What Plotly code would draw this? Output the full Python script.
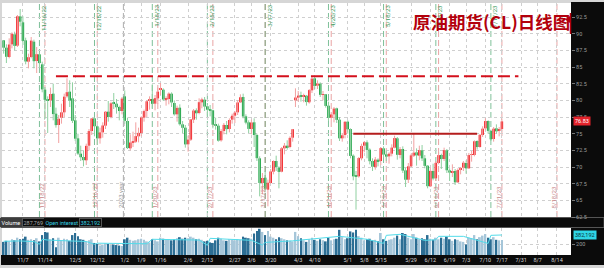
import plotly.graph_objects as go
import pandas as pd

# ---------------- data ----------------
holidays = ["2022-11-24", "2022-12-26", "2023-01-02", "2023-01-16", "2023-02-20",
            "2023-04-07", "2023-05-29", "2023-06-19", "2023-07-04"]
first_day = "2022-10-28"
last_axis_day = "2023-08-31"

open_ = [89.0, 87.9, 86.5, 88.4, 89.9, 88.2, 92.6, 91.7, 89.0, 85.8, 86.5, 88.8, 85.9, 86.9, 85.4, 81.6,
         80.1, 80.0, 81.0, 78.0, 76.3, 77.4, 78.2, 80.6, 81.3, 80.3, 77.0, 74.3, 72.0, 71.5, 71.0, 73.2,
         75.4, 77.3, 76.1, 74.3, 75.2, 76.2, 78.3, 77.5, 79.6, 79.5, 79.0, 78.4, 80.6, 76.9, 72.8, 73.7,
         73.8, 74.6, 75.1, 77.4, 78.4, 79.9, 80.2, 79.5, 80.3, 81.6, 81.6, 80.1, 80.2, 81.0, 79.6, 77.9,
         78.9, 76.4, 75.9, 73.4, 74.1, 77.1, 78.5, 78.1, 79.7, 80.1, 79.1, 78.6, 78.5, 76.4, 76.2, 74.0,
         75.4, 76.3, 75.7, 77.1, 77.7, 78.2, 79.7, 80.5, 77.6, 76.7, 75.7, 76.7, 74.8, 71.3, 67.6, 68.4,
         66.6, 67.6, 69.3, 70.9, 69.9, 69.3, 72.8, 73.2, 73.0, 74.4, 80.0, 80.4, 80.7, 80.6, 80.7, 79.7,
         81.5, 83.3, 82.2, 82.5, 80.8, 80.9, 79.2, 77.4, 77.9, 78.8, 77.1, 74.3, 74.8, 76.8, 75.7, 71.7,
         68.6, 68.6, 71.3, 73.2, 73.7, 72.6, 70.9, 70.0, 71.1, 70.9, 72.8, 71.9, 71.6, 72.0, 72.9, 74.3,
         71.8, 72.7, 69.5, 68.1, 70.1, 71.7, 72.2, 71.7, 72.5, 71.3, 70.2, 67.1, 69.4, 68.3, 70.6, 71.8,
         71.2, 72.5, 69.5, 69.2, 69.4, 67.7, 69.6, 69.9, 70.6, 69.8, 71.8, 71.8, 73.9, 73.0, 74.8, 75.8,
         76.9, 75.4, 74.2, 75.8, 75.4, 75.7]
high = [89.0, 88.4, 89.3, 90.2, 90.3, 92.8, 93.7, 92.6, 89.4, 87.0, 89.5, 89.1, 88.0, 87.2, 85.8, 82.0,
        80.6, 81.9, 82.5, 78.9, 77.8, 79.5, 81.0, 83.3, 83.0, 82.7, 77.8, 75.0, 73.2, 72.5, 73.5, 75.7,
        77.3, 77.5, 76.2, 75.9, 76.7, 78.4, 79.9, 79.8, 81.1, 80.2, 79.2, 80.5, 81.5, 77.4, 74.9, 75.3,
        76.7, 75.9, 77.6, 78.6, 80.0, 80.6, 82.4, 80.8, 81.9, 82.6, 81.8, 80.6, 81.2, 81.2, 80.0, 79.2,
        79.4, 76.9, 76.3, 74.7, 77.2, 78.7, 78.8, 80.3, 80.4, 80.5, 79.2, 79.3, 78.6, 77.4, 76.5, 75.7,
        76.6, 76.9, 77.3, 78.0, 78.4, 80.0, 80.9, 81.0, 77.9, 77.0, 77.1, 77.3, 75.0, 71.6, 69.1, 69.4,
        68.1, 69.7, 71.0, 71.7, 70.1, 73.0, 73.6, 74.0, 74.6, 75.7, 81.8, 81.4, 81.3, 81.0, 80.8, 81.7,
        83.5, 83.5, 83.0, 82.7, 81.4, 80.9, 79.8, 78.0, 79.0, 78.9, 77.5, 75.1, 76.9, 77.0, 75.8, 71.9,
        69.4, 71.5, 73.5, 73.9, 74.0, 72.8, 71.3, 71.5, 71.3, 73.0, 73.1, 72.5, 72.2, 73.4, 74.7, 74.5,
        73.0, 73.1, 69.9, 70.6, 72.0, 75.1, 72.8, 73.2, 73.3, 71.8, 70.3, 69.9, 70.5, 70.9, 72.2, 72.0,
        72.9, 72.7, 69.8, 70.4, 69.7, 69.8, 70.0, 70.9, 71.0, 72.1, 72.4, 74.0, 74.0, 74.9, 76.1, 77.3,
        77.0, 75.6, 76.0, 76.4, 76.0, 77.3]
low = [87.0, 85.6, 86.3, 87.8, 87.5, 88.0, 91.1, 88.3, 85.4, 84.8, 86.3, 84.8, 84.1, 84.9, 81.2, 77.2,
       75.1, 79.0, 77.0, 75.9, 73.6, 76.5, 77.5, 80.4, 79.0, 76.6, 73.9, 71.8, 70.9, 70.1, 70.3, 72.5,
       74.8, 74.6, 73.3, 73.5, 74.4, 75.7, 76.8, 77.3, 78.7, 78.0, 77.0, 77.9, 76.5, 72.7, 72.5, 73.0,
       73.6, 73.7, 74.6, 76.8, 77.5, 78.6, 78.8, 78.5, 79.5, 80.8, 79.9, 79.2, 79.4, 79.0, 77.7, 76.8,
       76.2, 75.1, 72.9, 72.3, 73.9, 76.6, 77.1, 77.9, 78.8, 78.4, 77.7, 77.6, 75.8, 75.6, 73.8, 73.8,
       74.9, 74.9, 75.2, 76.5, 76.6, 77.8, 79.6, 77.3, 76.4, 75.1, 74.9, 73.0, 70.9, 65.6, 65.9, 66.2,
       64.1, 67.5, 68.9, 69.4, 66.8, 69.2, 71.9, 72.6, 72.8, 73.8, 79.0, 79.8, 79.8, 79.7, 79.2, 79.5,
       81.1, 81.7, 81.7, 80.5, 80.0, 78.9, 76.9, 76.9, 76.7, 76.6, 73.9, 73.8, 74.3, 75.0, 71.3, 68.0,
       63.6, 68.4, 71.0, 72.2, 71.3, 70.4, 69.4, 69.6, 70.1, 70.3, 71.4, 70.9, 70.5, 71.6, 72.8, 71.1,
       71.3, 69.1, 67.0, 67.6, 70.0, 71.5, 70.2, 71.0, 70.9, 69.8, 66.8, 67.0, 68.0, 67.9, 70.4, 69.7,
       70.9, 69.1, 67.9, 68.5, 67.3, 67.6, 68.9, 69.4, 69.0, 69.7, 70.8, 71.6, 72.6, 72.9, 74.5, 75.5,
       75.0, 73.9, 73.8, 75.0, 74.6, 75.5]
close = [87.90, 86.53, 88.37, 90.00, 88.17, 92.61, 91.79, 88.91, 85.83, 86.47, 88.96, 85.87, 86.92, 85.59,
         81.64, 80.08, 80.04, 80.95, 77.94, 76.28, 77.24, 78.20, 80.55, 81.22, 79.98, 76.93, 74.25, 72.01,
         71.46, 71.02, 73.17, 75.39, 77.28, 76.11, 74.29, 75.19, 76.23, 78.29, 77.49, 79.56, 79.53, 78.96,
         78.40, 80.26, 76.93, 72.84, 73.67, 73.77, 74.63, 75.12, 77.41, 78.39, 79.86, 80.18, 79.48, 80.33,
         81.31, 81.62, 80.13, 80.15, 81.01, 79.68, 77.90, 78.87, 76.41, 75.88, 73.39, 74.11, 77.14, 78.47,
         78.06, 79.72, 80.14, 79.06, 78.59, 78.49, 76.34, 76.16, 73.95, 75.39, 76.32, 75.68, 77.05, 77.69,
         78.16, 79.68, 80.46, 77.58, 76.66, 75.72, 76.68, 74.80, 71.33, 67.61, 68.35, 66.74, 67.64, 69.33,
         70.90, 69.96, 69.26, 72.81, 73.20, 72.97, 74.37, 75.67, 80.42, 80.71, 80.61, 80.70, 79.74, 81.53,
         83.26, 82.16, 82.52, 80.83, 80.86, 79.16, 77.37, 77.87, 78.76, 77.07, 74.30, 74.76, 76.78, 75.66,
         71.66, 68.60, 68.56, 71.34, 73.16, 73.71, 72.56, 70.87, 70.04, 71.11, 70.86, 72.83, 71.86, 71.55,
         71.99, 72.91, 74.34, 71.83, 72.67, 69.46, 68.09, 70.10, 71.74, 72.15, 71.74, 72.53, 71.29, 70.17,
         67.12, 69.42, 68.27, 70.62, 71.78, 71.19, 72.53, 69.51, 69.16, 69.37, 67.70, 69.56, 69.86, 70.64,
         69.79, 71.79, 71.80, 73.86, 72.99, 74.83, 75.75, 76.89, 75.42, 74.15, 75.75, 75.35, 75.63, 76.83]
volume_k = [250, 270, 260, 300, 280, 330, 300, 310, 350, 290, 300, 280, 320, 260, 380, 440,
            430, 300, 320, 150, 330, 280, 310, 300, 270, 380, 420, 360, 300, 290, 260, 280,
            300, 230, 210, 180, 200, 220, 210, 190, 200, 190, 180, 170, 300, 330, 290, 270,
            280, 300, 310, 290, 260, 240, 300, 280, 260, 330, 310, 290, 300, 280, 300, 320,
            340, 310, 330, 320, 350, 330, 300, 310, 290, 260, 270, 240, 230, 280, 330, 310,
            280, 270, 300, 290, 280, 300, 290, 350, 330, 320, 310, 410, 460, 500, 440, 380,
            460, 350, 330, 300, 340, 320, 300, 280, 270, 260, 440, 360, 320, 280, 250, 300,
            330, 290, 270, 300, 280, 260, 330, 280, 300, 310, 480, 340, 300, 320, 450, 430,
            480, 360, 330, 280, 300, 310, 280, 290, 260, 420, 300, 270, 290, 300, 330, 370,
            300, 420, 400, 330, 300, 400, 330, 300, 320, 300, 380, 310, 290, 330, 300, 330,
            310, 350, 300, 270, 300, 290, 260, 250, 200, 330, 320, 380, 300, 340, 370, 400,
            330, 300, 340, 290, 280, 288]
oi_dates = ["2022-10-28", "2022-11-07", "2022-11-14", "2022-11-16", "2022-11-17", "2022-11-21",
            "2022-12-01", "2022-12-12", "2022-12-15", "2022-12-16", "2022-12-30", "2023-01-13",
            "2023-01-18", "2023-01-27", "2023-02-10", "2023-02-15", "2023-02-16", "2023-02-28",
            "2023-03-10", "2023-03-16", "2023-03-17", "2023-03-31", "2023-04-13", "2023-04-26",
            "2023-05-10", "2023-05-18", "2023-05-19", "2023-05-26", "2023-06-09", "2023-06-15",
            "2023-06-16", "2023-06-30", "2023-07-14", "2023-07-17", "2023-07-21"]
oi_k = [262, 268, 255, 205, 300, 285, 270, 258, 205, 225, 220, 215, 300, 290, 285, 185, 318, 300,
        280, 190, 240, 270, 317, 356, 300, 221, 375, 394, 279, 290, 356, 356, 221, 375, 382]

resistance_level = 83.6
resistance_span = ["2022-11-25", "2023-07-31"]
range_level = 75.0
range_span = ["2023-05-03", "2023-07-10"]

green_dates = ["2022-11-16", "2022-12-15", "2023-01-18", "2023-02-15", "2023-03-17",
               "2023-04-20", "2023-05-18", "2023-06-15", "2023-07-17"]
green_labels = ["11/16/22", "12/15/22", "1/18/23", "2/15/23", "3/17/23",
                "4/20/23", "5/18/23", "6/15/23", "7/17/23"]
red_dates = ["2022-11-18", "2022-12-16", "2023-01-20", "2023-02-17", "2023-03-17",
             "2023-04-21", "2023-05-19", "2023-06-16", "2023-07-21", "2023-08-18"]
red_labels = ["11/18/22", "12/16/22", "1/20/23", "2/17/23", "3/17/23",
              "4/21/23", "5/19/23", "6/16/23", "7/21/23", "8/18/23"]
year_date = "2022-12-30"
year_label = "2023 year"

tick_dates = ["2022-11-08", "2022-11-18", "2022-12-06", "2022-12-16", "2023-01-03", "2023-01-11",
              "2023-01-23", "2023-02-06", "2023-02-15", "2023-03-02", "2023-03-10", "2023-03-21",
              "2023-04-04", "2023-04-13", "2023-05-01", "2023-05-09", "2023-05-17", "2023-06-02",
              "2023-06-13", "2023-06-23", "2023-07-03", "2023-07-13", "2023-07-21", "2023-08-01",
              "2023-08-09", "2023-08-18"]
tick_text = ["11/7", "11/14", "12/5", "12/12", "1/2", "1/9", "1/16", "2/6", "2/13", "2/27", "3/6",
             "3/20", "4/3", "4/10", "5/1", "5/8", "5/15", "5/29", "6/12", "6/19", "7/3", "7/10",
             "7/17", "7/31", "8/7", "8/14"]
price_ticks = [92.5, 90, 87.5, 85, 82.5, 80, 77.5, 75, 72.5, 70, 67.5, 65, 62.5]
price_tick_text = ["92.5", "90", "87.5", "85", "82.5", "80", "77.5", "75", "72.5", "70", "67.5", "65", "62.5"]
vol_ticks = [200]
last_price = close[-1]
last_volume = "287,769"
last_oi = "382,192"
title = "原油期货(CL)日线图"

# ---------------- geometry ----------------
W, H = 604, 268
ML, MR, MT, MB = 2, 33, 3, 13
PW, PH = W - ML - MR, H - MT - MB


def px_x(p):
    return (p - ML) / PW


def px_y(p):
    return (H - MB - p) / PH


cal = pd.bdate_range(first_day, last_axis_day, freq="C", holidays=holidays)
pos = {d.strftime("%Y-%m-%d"): i for i, d in enumerate(cal)}
n = len(close)
xs = list(range(n))

UP, DOWN = "#f20d12", "#079a33"
UP_W, DOWN_W = "#f2a0a0", "#8fd0a0"

fig = go.Figure()

# wicks
for want_up, col in [(True, UP_W), (False, DOWN_W)]:
    wx, wy = [], []
    for i in xs:
        if (close[i] >= open_[i]) == want_up:
            wx += [i, i, None]
            wy += [low[i], high[i], None]
    fig.add_trace(go.Scatter(x=wx, y=wy, mode="lines", line=dict(color=col, width=1),
                             hoverinfo="skip", xaxis="x2", yaxis="y", showlegend=False))

# bodies
base = [min(o, c) for o, c in zip(open_, close)]
body = [max(abs(c - o), 0.15) for o, c in zip(open_, close)]
bcol = [UP if c >= o else DOWN for o, c in zip(open_, close)]
fig.add_trace(go.Bar(x=xs, y=body, base=base, marker=dict(color=bcol, line=dict(width=0)),
                     width=0.9, xaxis="x2", yaxis="y", showlegend=False))

# volume
vcol = ["#a6c6d9" if c >= o else "#2c6e94" for o, c in zip(open_, close)]
fig.add_trace(go.Bar(x=xs, y=volume_k, marker=dict(color=vcol, line=dict(width=0)), width=0.66,
                     xaxis="x", yaxis="y2", showlegend=False))
fig.add_trace(go.Scatter(x=[pos[d] for d in oi_dates], y=oi_k, mode="lines",
                         line=dict(color="#53dcea", width=1), xaxis="x", yaxis="y2", showlegend=False))

shapes = []
# black panels
shapes.append(dict(type="rect", xref="paper", yref="paper", x0=px_x(571), x1=px_x(604),
                   y0=px_y(265), y1=px_y(2), fillcolor="#0b0b0b", line=dict(width=0), layer="below"))
shapes.append(dict(type="rect", xref="paper", yref="paper", x0=px_x(1), x1=px_x(604),
                   y0=px_y(227.5), y1=px_y(217.5), fillcolor="#0b0b0b", line=dict(color="#555", width=1),
                   layer="below"))
shapes.append(dict(type="rect", xref="paper", yref="paper", x0=px_x(1), x1=px_x(604),
                   y0=px_y(265), y1=px_y(255), fillcolor="#0b0b0b", line=dict(width=0), layer="below"))

# event lines
for d in red_dates:
    shapes.append(dict(type="line", xref="x2", yref="y domain", x0=pos[d], x1=pos[d], y0=0, y1=1,
                       line=dict(color="rgba(215,90,90,0.55)", width=1, dash="6px,3px"), layer="below"))
for d in green_dates:
    shapes.append(dict(type="line", xref="x2", yref="y domain", x0=pos[d], x1=pos[d], y0=0, y1=1,
                       line=dict(color="rgba(40,150,85,0.6)", width=1, dash="6px,3px"), layer="below"))
shapes.append(dict(type="line", xref="x2", yref="y domain", x0=pos[year_date] + 0.5, x1=pos[year_date] + 0.5,
                   y0=0, y1=1, line=dict(color="rgba(140,140,140,0.7)", width=1, dash="6px,3px"), layer="below"))

# horizontal levels
shapes.append(dict(type="line", xref="x2", yref="y", x0=pos[resistance_span[0]], x1=pos[resistance_span[1]],
                   y0=resistance_level, y1=resistance_level,
                   line=dict(color="#d4101c", width=2, dash="12px,5px")))
shapes.append(dict(type="line", xref="x2", yref="y", x0=pos[range_span[0]], x1=pos[range_span[1]],
                   y0=range_level, y1=range_level, line=dict(color="#b51d1d", width=2)))

# title pointer
shapes.append(dict(type="line", xref="paper", yref="paper", x0=px_x(570.5), x1=px_x(570.5),
                   y0=px_y(34), y1=px_y(13), line=dict(color="#b3000c", width=1.5)))
shapes.append(dict(type="path", xref="paper", yref="paper",
                   path=f"M {px_x(565)},{px_y(19.5)} L {px_x(570)},{px_y(16)} L {px_x(570)},{px_y(23)} Z",
                   fillcolor="#b3000c", line=dict(width=0)))

ann = []
FONT = "Roboto"
for d, t in zip(red_dates, red_labels):
    ann.append(dict(x=pos[d], y=0, xref="x2", yref="y domain", text=t, textangle=-90, showarrow=False,
                    xanchor="center", yanchor="bottom", xshift=-3.5, yshift=7,
                    font=dict(size=6, color="#c98a8a", family=FONT)))
for d, t in zip(green_dates, green_labels):
    ann.append(dict(x=pos[d], y=1, xref="x2", yref="y domain", text=t, textangle=-90, showarrow=False,
                    xanchor="center", yanchor="top", xshift=3.5, yshift=0,
                    font=dict(size=6, color="#3f9e62", family=FONT)))
ann.append(dict(x=pos[year_date] + 0.5, y=0, xref="x2", yref="y domain", text=year_label, textangle=-90,
                showarrow=False, xanchor="center", yanchor="bottom", xshift=-3.5, yshift=7,
                font=dict(size=6, color="#9a9a9a", family=FONT)))

# title
ann.append(dict(x=px_x(411), y=px_y(22), xref="paper", yref="paper", text=f"<b>{title}</b>",
                showarrow=False, xanchor="left", yanchor="middle",
                font=dict(size=17.5, color="#b3000c", family="Noto Sans CJK SC")))

# last price / OI boxes
ann.append(dict(x=1, y=last_price, xref="paper", yref="y", text=f"{last_price:.2f}", showarrow=False,
                xanchor="left", yanchor="middle", xshift=2, bgcolor="#e3232b", borderpad=1,
                font=dict(size=5.5, color="white", family=FONT)))
ann.append(dict(x=1, y=oi_k[-1], xref="paper", yref="y2", text=last_oi, showarrow=False,
                xanchor="left", yanchor="middle", xshift=2, bgcolor="#2fd6e6", borderpad=1,
                font=dict(size=5.5, color="#08343a", family=FONT)))

# header bar texts
hy = px_y(222.5)
for cx, txt, col, bg, bc in [(11, "Volume", "#ffffff", "#3d3d3d", "#3d3d3d"),
                             (33, last_volume, "#a8a8a8", "#0b0b0b", "#555555"),
                             (62, "Open interest", "#36d3e3", "#0b0b0b", "#0b0b0b"),
                             (90, last_oi, "#36d3e3", "#0b0b0b", "#555555")]:
    ann.append(dict(x=px_x(cx), y=hy, xref="paper", yref="paper", text=txt, showarrow=False,
                    xanchor="center", yanchor="middle", bgcolor=bg, bordercolor=bc, borderwidth=1,
                    borderpad=0.5, font=dict(size=5.5, color=col, family=FONT)))

tickpos = [pos[d] for d in tick_dates]
grid = dict(showgrid=True, gridcolor="#cfcfcf", gridwidth=1, griddash="dot", zeroline=False)
xr = [-0.6, 206.1]

fig.update_layout(
    width=W, height=H, margin=dict(l=ML, r=MR, t=MT, b=MB, pad=0),
    paper_bgcolor="#d6d6d6", plot_bgcolor="#ffffff", barmode="overlay", showlegend=False,
    font=dict(family=FONT),
    xaxis=dict(domain=[0, 1], anchor="y2", range=xr, tickmode="array", tickvals=tickpos, ticktext=tick_text,
               tickfont=dict(size=5.5, color="#d8d8d8"), ticks="", showline=False, **grid),
    xaxis2=dict(domain=[0, 1], anchor="y", matches="x", tickmode="array", tickvals=tickpos,
                showticklabels=False, ticks="", showline=False, **grid),
    yaxis=dict(domain=[px_y(217), 1], anchor="x2", side="right", range=[62.5, 94.6], tickmode="array",
               tickvals=price_ticks, ticktext=price_tick_text, ticks="outside", ticklen=3, tickcolor="#777",
               tickfont=dict(size=5.5, color="#9a9a9a"), showline=False, **grid),
    yaxis2=dict(domain=[0, px_y(228)], anchor="x", side="right", range=[0, 515], tickmode="array",
                tickvals=vol_ticks, ticktext=[str(v) for v in vol_ticks], ticks="outside", ticklen=3,
                tickcolor="#777", tickfont=dict(size=5.5, color="#9a9a9a"), showline=False, **grid),
    shapes=shapes, annotations=ann,
)

fig.write_html("out.html")
